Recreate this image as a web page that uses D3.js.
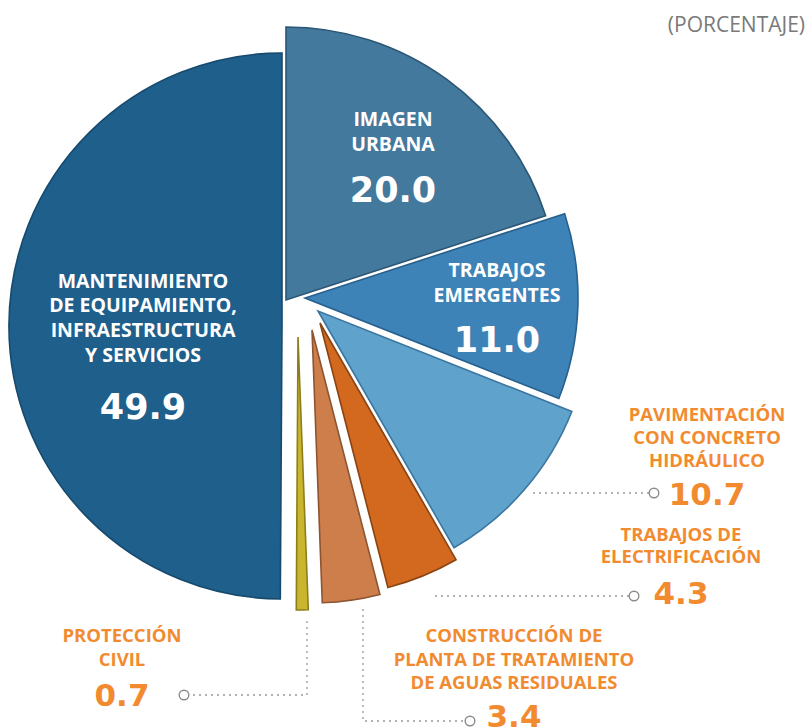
<!DOCTYPE html>
<html>
<head>
<meta charset="utf-8">
<script src="https://cdn.jsdelivr.net/npm/d3@7"></script>
<style>
  body { margin: 0; background: #fff; }
  svg { display: block; }
  .num { font-family: "DejaVu Sans", Lato, sans-serif; font-weight: 700; }
  .lab { font-family: "Open Sans", Lato, sans-serif; font-weight: 700; }
</style>
</head>
<body>
<svg id="chart" width="807" height="728"></svg>
<script>
// slices in pie order, clockwise from 12 o'clock
var categories = ["Imagen urbana", "Trabajos emergentes", "Pavimentación con concreto hidráulico",
                  "Trabajos de electrificación", "Construcción de planta de tratamiento de aguas residuales",
                  "Protección civil", "Mantenimiento de equipamiento, infraestructura y servicios"];
var values = [20.0, 11.0, 10.7, 4.3, 3.4, 0.7, 49.9];
var labelLines = [["IMAGEN", "URBANA"],
                  ["TRABAJOS", "EMERGENTES"],
                  ["PAVIMENTACIÓN", "CON CONCRETO", "HIDRÁULICO"],
                  ["TRABAJOS DE", "ELECTRIFICACIÓN"],
                  ["CONSTRUCCIÓN DE", "PLANTA DE  TRATAMIENTO", "DE AGUAS RESIDUALES"],
                  ["PROTECCIÓN", "CIVIL"],
                  ["MANTENIMIENTO", "DE EQUIPAMIENTO,", "INFRAESTRUCTURA", "Y SERVICIOS"]];
var unitLabel = "(PORCENTAJE)";

// look
var fills   = ["#43799d", "#3d83b8", "#5fa3cc", "#d2691e", "#cd7e4b", "#c9b52e", "#1f5f8b"];
var strokes = ["#2b5675", "#28608d", "#3b76a0", "#8a4312", "#8d5431", "#8c7e1a", "#174a6d"];
var inside  = [true, true, false, false, false, false, true];
var orange = "#f28b30";

// pie centre, radius, and the hand-tuned explode offset of every slice
var cx = 282, cy = 326, radius = 273;
var explode = [[4, -26], [23, -28], [36, -15], [38, -3], [30, 4], [16, 11], [0, 0]];

// label blocks: centre x, first baseline, line step, value baseline, size of the value
var labelPos = [
  {x: 393, y: 126, step: 25, vy: 202, vs: 35},
  {x: 497, y: 277, step: 25, vy: 352, vs: 35},
  {x: 707, y: 421, step: 23, vy: 505, vs: 31},
  {x: 681, y: 541, step: 22, vy: 604, vs: 31},
  {x: 514, y: 642, step: 23.5, vy: 727, vs: 31},
  {x: 122, y: 642, step: 24, vy: 706, vs: 31},
  {x: 143, y: 287.5, step: 24.7, vy: 419, vs: 35}
];

// leader lines from the small slices to their labels
var leaders = [
  null, null,
  [[533, 493], [649, 493]],
  [[435, 596], [629, 596]],
  [[363, 609], [363, 721], [465, 721]],
  [[307, 621], [307, 695], [189, 695]],
  null
];

var svg = d3.select("#chart");
var fmt = d3.format(".1f");

var pie = d3.pie().sort(null).value(function(d) { return d; });
var arc = d3.arc().innerRadius(0).outerRadius(radius);
var arcs = pie(values);

var slices = svg.append("g").attr("transform", "translate(" + cx + "," + cy + ")");

slices.selectAll("path")
  .data(arcs)
  .enter().append("path")
  .attr("transform", function(d, i) { return "translate(" + explode[i][0] + "," + explode[i][1] + ")"; })
  .attr("d", arc)
  .attr("fill", function(d, i) { return fills[i]; })
  .attr("stroke", function(d, i) { return strokes[i]; })
  .attr("stroke-width", 1.6)
  .attr("stroke-linejoin", "miter");

// leaders
var lineGen = d3.line();
leaders.forEach(function(pts, i) {
  if (!pts) return;
  svg.append("path")
    .attr("d", lineGen(pts))
    .attr("fill", "none")
    .attr("stroke", "#9a9a9a")
    .attr("stroke-width", 1.3)
    .attr("stroke-dasharray", "2,4");
  var end = pts[pts.length - 1];
  var prev = pts[pts.length - 2];
  var dir = end[0] > prev[0] ? 1 : -1;
  svg.append("circle")
    .attr("cx", end[0] + dir * 5)
    .attr("cy", end[1])
    .attr("r", 4.8)
    .attr("fill", "#fff")
    .attr("stroke", "#8c8c8c")
    .attr("stroke-width", 1.4);
});

// labels
labelLines.forEach(function(lines, i) {
  var p = labelPos[i];
  var col = inside[i] ? "#fff" : orange;
  var t = svg.append("text")
    .attr("class", "lab")
    .attr("text-anchor", "middle")
    .attr("fill", col)
    .style("font-size", inside[i] ? "19.5px" : "18.5px");
  lines.forEach(function(s, k) {
    t.append("tspan").attr("x", p.x).attr("y", p.y + k * p.step).text(s);
  });
  svg.append("text")
    .attr("class", "num")
    .attr("x", p.x)
    .attr("y", p.vy)
    .attr("text-anchor", "middle")
    .attr("fill", col)
    .style("font-size", p.vs + "px")
    .text(fmt(values[i]));
});

svg.append("text")
  .attr("x", 805)
  .attr("y", 32)
  .attr("text-anchor", "end")
  .attr("fill", "#7a7a7a")
  .style("font-family", "'Open Sans', sans-serif")
  .style("font-size", "21px")
  .text(unitLabel);
</script>
</body>
</html>
